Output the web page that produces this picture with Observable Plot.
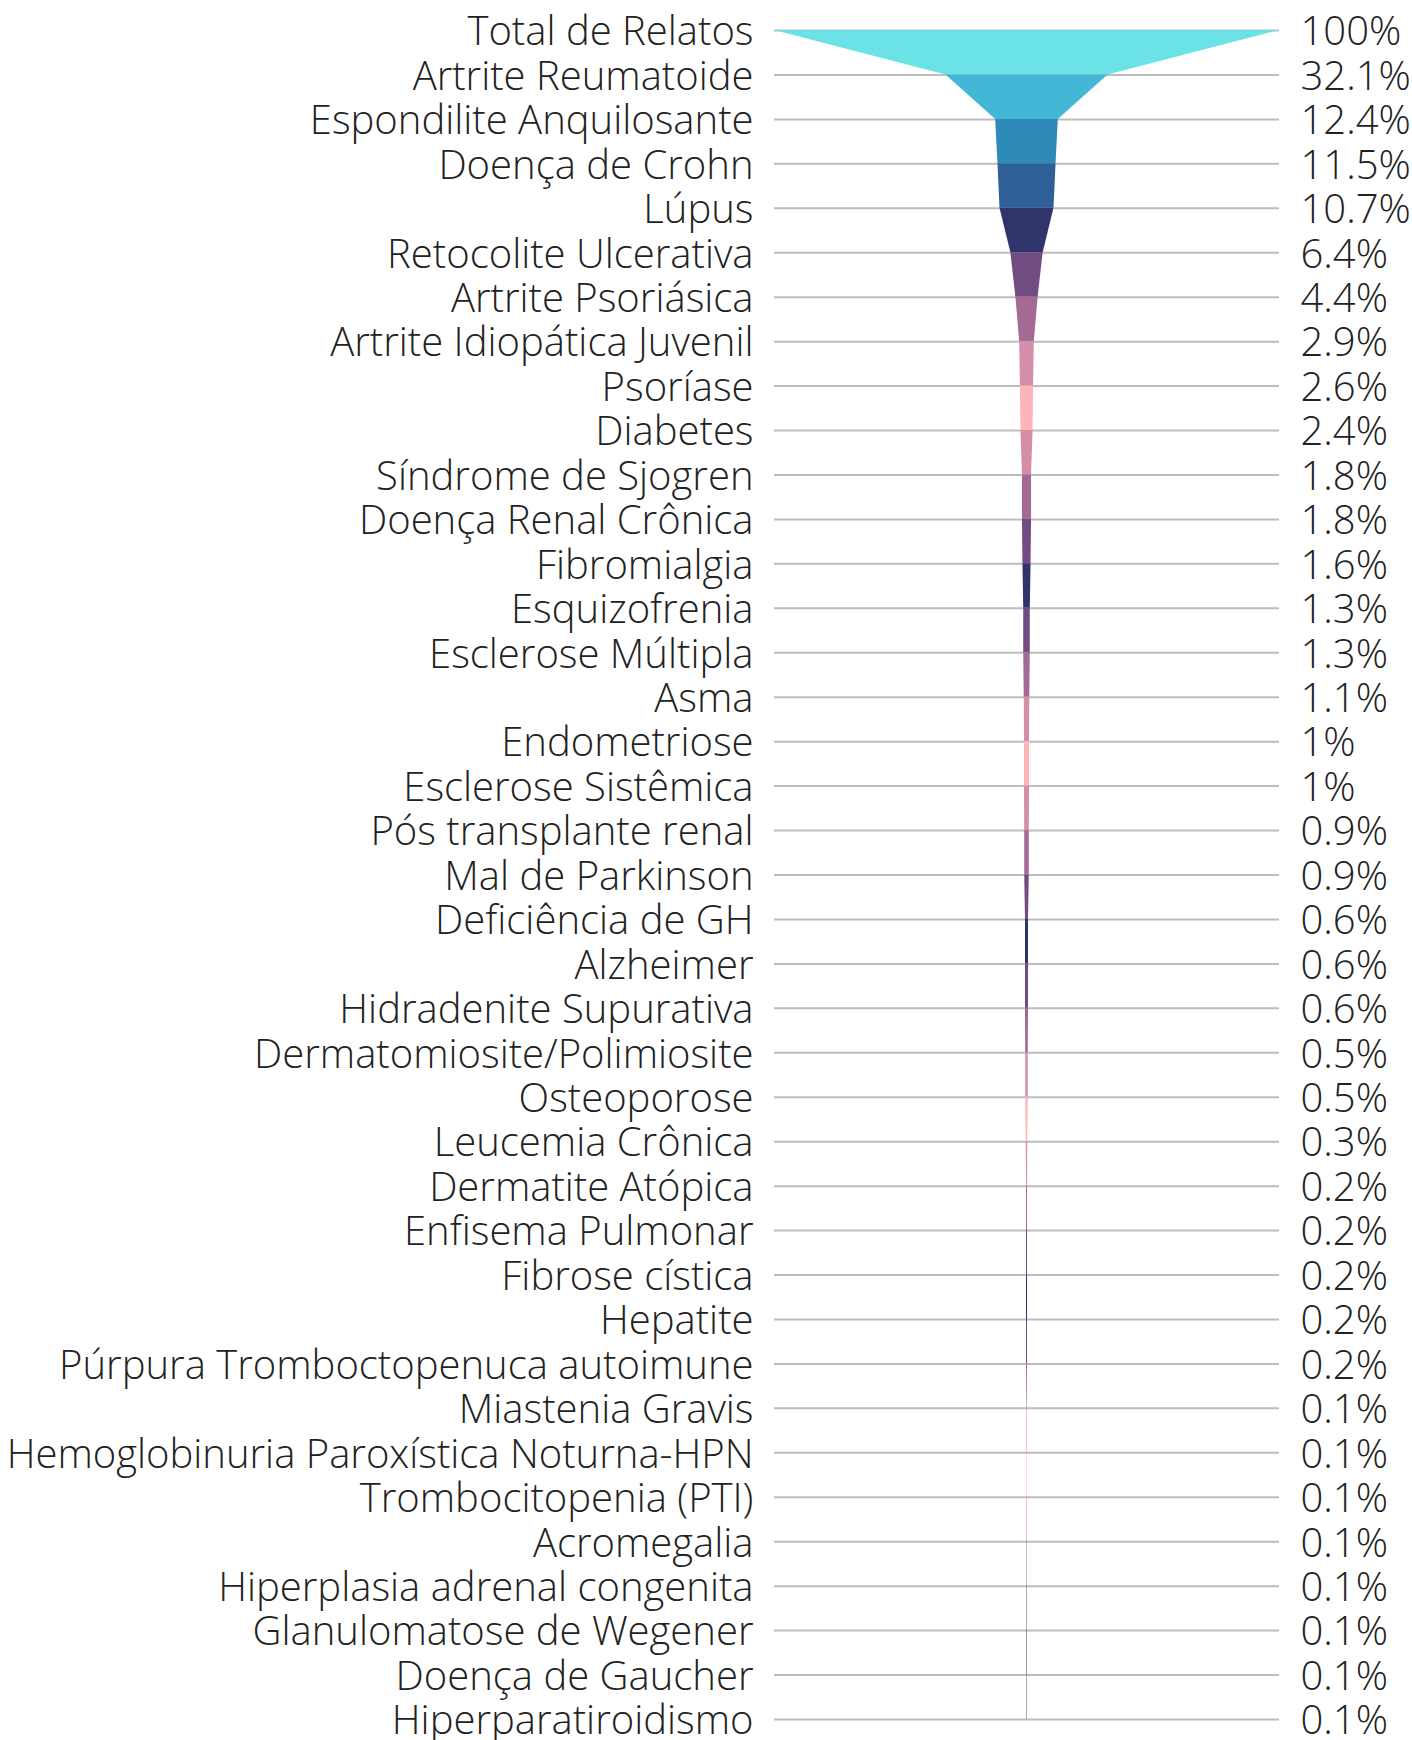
<!DOCTYPE html>
<html>
<head>
<meta charset="utf-8">
<script src="https://cdn.jsdelivr.net/npm/d3@7"></script>
<script src="https://cdn.jsdelivr.net/npm/@observablehq/plot@0.6"></script>
<style>
  html, body { margin: 0; padding: 0; background: #fff; }
</style>
</head>
<body>
<div id="chart"></div>
<script>
const categories = [
  "Total de Relatos",
  "Artrite Reumatoide",
  "Espondilite Anquilosante",
  "Doença de Crohn",
  "Lúpus",
  "Retocolite Ulcerativa",
  "Artrite Psoriásica",
  "Artrite Idiopática Juvenil",
  "Psoríase",
  "Diabetes",
  "Síndrome de Sjogren",
  "Doença Renal Crônica",
  "Fibromialgia",
  "Esquizofrenia",
  "Esclerose Múltipla",
  "Asma",
  "Endometriose",
  "Esclerose Sistêmica",
  "Pós transplante renal",
  "Mal de Parkinson",
  "Deficiência de GH",
  "Alzheimer",
  "Hidradenite Supurativa",
  "Dermatomiosite/Polimiosite",
  "Osteoporose",
  "Leucemia Crônica",
  "Dermatite Atópica",
  "Enfisema Pulmonar",
  "Fibrose cística",
  "Hepatite",
  "Púrpura Tromboctopenuca autoimune",
  "Miastenia Gravis",
  "Hemoglobinuria Paroxística Noturna-HPN",
  "Trombocitopenia (PTI)",
  "Acromegalia",
  "Hiperplasia adrenal congenita",
  "Glanulomatose de Wegener",
  "Doença de Gaucher",
  "Hiperparatiroidismo"
];

const values = [
  100, 32.1, 12.4, 11.5, 10.7, 6.4, 4.4, 2.9, 2.6, 2.4,
  1.8, 1.8, 1.6, 1.3, 1.3, 1.1, 1, 1, 0.9, 0.9,
  0.6, 0.6, 0.6, 0.5, 0.5, 0.3, 0.2, 0.2, 0.2, 0.2,
  0.2, 0.1, 0.1, 0.1, 0.1, 0.1, 0.1, 0.1, 0.1
];

const percentLabels = values.map(v => v + "%");

const palette = ["#6be3e6", "#44b7d6", "#2e8bb9", "#2f5f97", "#31336b", "#714c83", "#a36a93", "#d58ea9", "#feb5ba"];

// color index: first pass through palette, then ping-pong between navy (4) and light pink (8)
function colorIndex(i) {
  if (i <= 8) return i;
  const k = (i - 8) % 8; // 0..7
  return k <= 4 ? 8 - k : k;
}

const idx = d3.range(categories.length);

const segPoints = [];
for (let i = 0; i < categories.length - 1; i++) {
  const fill = palette[colorIndex(i)];
  segPoints.push({seg: i, y: i, x1: -values[i] / 2, x2: values[i] / 2, fill});
  segPoints.push({seg: i, y: i + 1, x1: -values[i + 1] / 2, x2: values[i + 1] / 2, fill});
}

const FS = 40;

const chart = Plot.plot({
  width: 1412,
  height: 1740,
  marginLeft: 774,
  marginRight: 133,
  marginTop: 30,
  marginBottom: 21,
  style: {fontFamily: "'Open Sans', sans-serif", fontWeight: 300, color: "#222", background: "#fff"},
  x: {domain: [-50, 50], axis: null},
  y: {domain: [0, categories.length - 1], reverse: true, axis: null, label: null},
  color: {type: "identity"},
  marks: [
    Plot.ruleY(idx, {y: d => d, x1: -50, x2: 50, stroke: "#bdbdbd", strokeWidth: 2}),
    Plot.areaX(segPoints, {y: "y", x1: "x1", x2: "x2", z: "seg", fill: "fill", curve: "linear"}),
    Plot.axisY(idx, {tickFormat: i => categories[i], tickSize: 0, tickPadding: 21, fontSize: FS, fontWeight: 300, fill: "#222", label: null, dy: 2}),
    Plot.text(idx, {x: 50, y: d => d, text: i => percentLabels[i], textAnchor: "start", dx: 21, dy: 2, fontSize: FS, fontWeight: 300, fill: "#222"})
  ]
});

document.getElementById("chart").appendChild(chart);
</script>
</body>
</html>
